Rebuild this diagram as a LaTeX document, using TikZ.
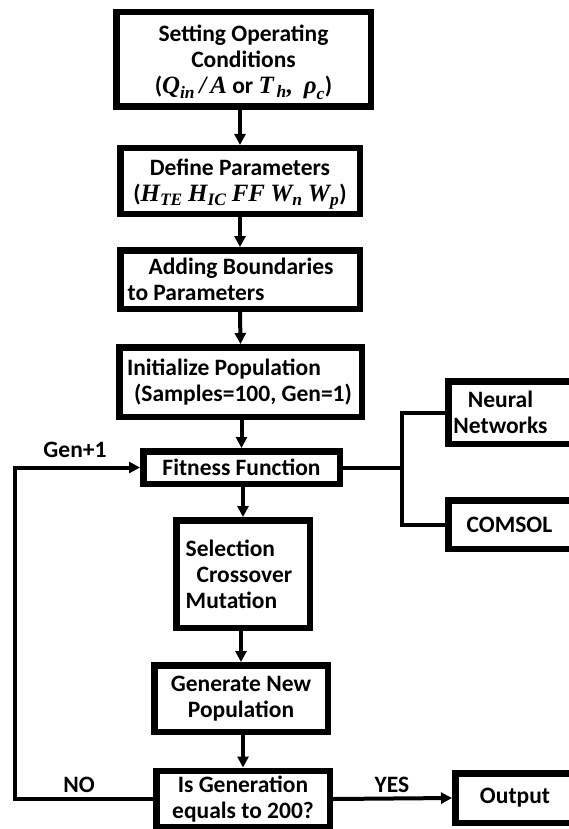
\documentclass[tikz,border=0pt]{standalone}
\usepackage{amsmath}
\usepackage{fontspec}
\setmainfont{Carlito}
\newfontfamily\mfam{Liberation Serif}[Scale=1.06]
\newcommand{\mv}[1]{\text{\mfam\bfseries\itshape #1}}
\usetikzlibrary{arrows.meta}
\begin{document}
\begin{tikzpicture}[x=1pt,y=-1pt,
  txt/.style={font=\bfseries\fontsize{23.5}{26}\selectfont},
  box/.style={draw, line width=6.5pt, rectangle, inner sep=0pt, align=center, txt},
  intext/.style={txt, align=center, inner sep=0pt},
  conn/.style={line width=4pt},
  arr/.style={conn, -{Triangle[length=11pt,width=11pt]}},
  lbl/.style={txt, anchor=base, inner sep=0pt}]
\fill[white] (0,0) rectangle (569,829);
\useasboundingbox (0,0) rectangle (569,829);

\node[box, minimum width=254.5pt, minimum height=94.5pt,
  label={[intext, yshift=-3pt]center:{Setting Operating\\Conditions\\($\mv{Q}_{\mv{in}}\,\mv{/}\,\mv{A}$ or $\mv{T}_{\,\mv{h}}\mv{,}\ \ \mv{ρ}_{\mv{c}}$)}}] (b1) at (243.5,59.5) {};
\node[box, minimum width=239.5pt, minimum height=65.5pt,
  label={[intext, yshift=-3pt]center:{Define Parameters\\($\mv{H}_{\mv{TE}}\ \mv{H}_{\mv{IC}}\ \mv{FF}\ \mv{W}_{\mv{n}}\ \mv{W}_{\mv{p}}$)}}] (b2) at (240,181) {};
\node[box, minimum width=239.5pt, minimum height=58.5pt,
  label={[intext, align=left, xshift=-9.5pt]center:{\hspace*{21pt}Adding Boundaries\\to Parameters}}] (b3) at (240,279.5) {};
\node[box, minimum width=242.5pt, minimum height=69.5pt,
  label={[intext, align=left, xshift=-1pt]center:{Initialize Population\\\hspace*{7pt}(Samples=100, Gen=1)}}] (b4) at (240.5,382) {};
\node[box, minimum width=196.5pt, minimum height=32.5pt] (fit) at (241.5,467.5) {Fitness Function};
\node[box, minimum width=133.5pt, minimum height=107.5pt,
  label={[intext, align=left, xshift=-4pt]center:{Selection\\\hspace*{11pt}Crossover\\Mutation}}] (sel) at (243,574) {};
\node[box, minimum width=173.5pt, minimum height=66.5pt] (gen) at (241,698.5) {Generate New\\Population};
\node[box, minimum width=173.5pt, minimum height=56.5pt] (isg) at (243,799) {Is Generation\\equals to 200?};
\node[box, minimum width=119.5pt, minimum height=49.5pt] (out) at (515,798) {Output};
\node[box, minimum width=126.5pt, minimum height=62.5pt,
  label={[intext, xshift=-11pt]center:{Neural\\Networks}}] (nn) at (511.5,412.5) {};
\node[box, minimum width=126.5pt, minimum height=48.5pt,
  label={[intext, xshift=-2pt]center:{COMSOL}}] (cm) at (511.5,524.5) {};

\coordinate (bx) at (402,467.5);
\coordinate (lp) at (14.5,640);

\draw[arr] (b1.south -| b2.north) -- (b2.north);
\draw[arr] (b2.south) -- (b3.north);
\draw[arr] (b3.south) -- (b4.north);
\draw[arr] (b4.south -| fit.north) -- (fit.north);
\draw[arr] (fit.south -| sel.north) -- (sel.north);
\draw[arr] (sel.south -| gen.north) -- (gen.north);
\draw[arr] (gen.south -| isg.north) -- (isg.north);
\draw[conn] (fit.east) -- (bx);
\draw[conn] (nn.west) -| (bx) |- (cm.west);
\draw[arr] (isg.west) -| (lp) |- (fit.west);
\draw[arr] (isg.east) -- (out.west);

\node[lbl] (lgen) at (75,457) {Gen+1};
\node[lbl] (lno) at (79,792) {NO};
\node[lbl] (lyes) at (392,792) {YES};
\end{tikzpicture}
\end{document}
